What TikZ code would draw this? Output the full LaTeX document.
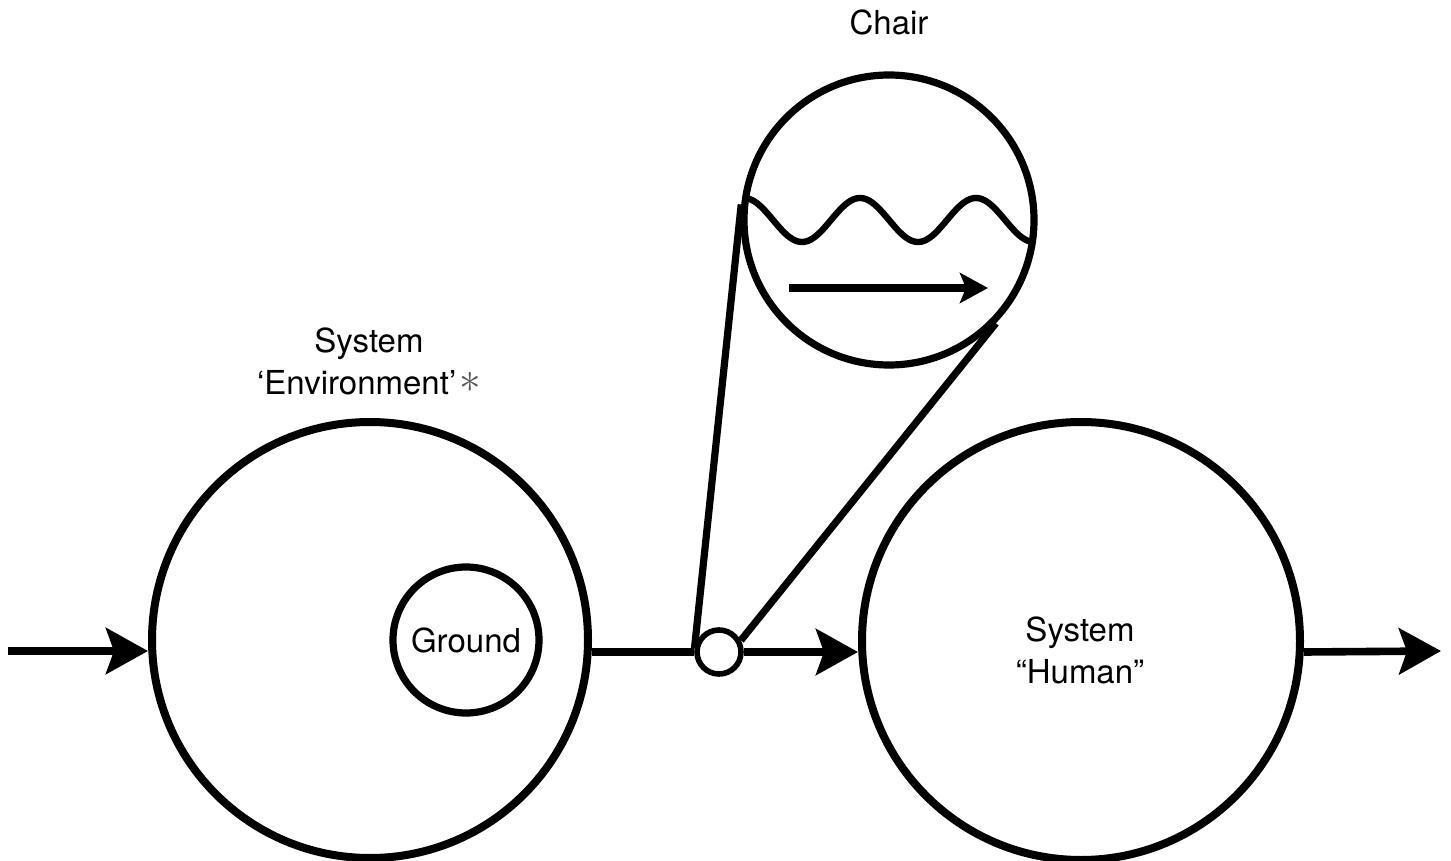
\documentclass[tikz,border=0pt]{standalone}
\usepackage{fontspec}
\setmainfont{TeX Gyre Heros}
\usetikzlibrary{arrows.meta}
\begin{document}
\begin{tikzpicture}[x=0.5pt,y=-0.5pt,
  ring/.style={circle,draw,line width=4pt,inner sep=0pt},
  lbl/.style={font=\fontsize{16.5}{21}\selectfont,align=center,inner sep=0pt},
  flow/.style={line width=3.8pt,-{Stealth[length=21pt,width=23pt,inset=4pt]}},
  drift/.style={line width=3.8pt,-{Stealth[length=14pt,width=15pt,inset=3pt]}},
  link/.style={line width=3.6pt},
  wave/.style={line width=3.2pt}]
\useasboundingbox (0,0) rectangle (1451,861);

% systems
\node[ring,minimum size=218pt] (env) at (370,640) {};
\node[ring,line width=3.6pt,minimum size=73pt,font=\fontsize{16.5}{21}\selectfont] (ground) at (466,640) {Ground};
\node[ring,minimum size=219pt] (human) at (1081,641) {};

% chair, magnified, and its joint on the flow line
\node[ring,line width=3.6pt,minimum size=145pt] (chair) at (889,220) {};
\coordinate (src) at (8,651);
\coordinate (sink) at (1441,651);

% flow line
\draw[flow] (src) -- (src -| env.west);
\node[ring,line width=2.8pt,fill=white,minimum size=22pt] (joint) at (719,652) {};
\draw[link] (joint -| env.east) -- (joint.west);
\draw[flow] (joint.east) -- (joint -| human.west);
\draw[flow] (joint -| human.east) -- (sink);

% magnifier rays
\draw[link] (joint.172) -- (chair.174);
\draw[link] (joint.28) -- (chair.-44);

% wave and drift inside the chair (period 116 units, 2.5 periods across)
\begin{scope}[shift={(chair.center)}]
  \draw[wave] plot[domain=-145:145,samples=140,smooth] ({\x},{-22*cos(3.10345*(\x+145))});
  \coordinate (drift-a) at (-100,68);
  \coordinate (drift-b) at (99,68);
\end{scope}
\draw[drift] (drift-a) -- (drift-b);

% labels
\node[lbl] (chairlbl) at (889,22) {Chair};
\node[lbl] (envlbl) at (369,361) {System\\‘Environment’\kern1.5pt{\color{black!65}\raisebox{1pt}{\scalebox{1.25}{$\ast$}}}};
\node[lbl] (humanlbl) at (1080,650) {System\\“Human”};
\end{tikzpicture}
\end{document}
